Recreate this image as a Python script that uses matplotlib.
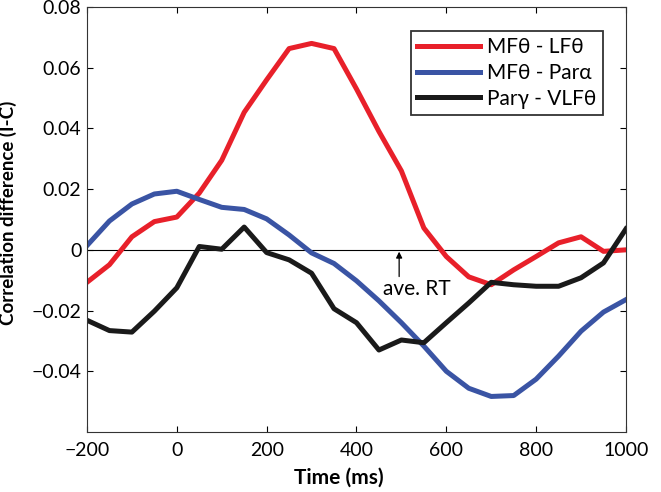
import matplotlib
matplotlib.use("Agg")
import matplotlib.pyplot as plt

plt.rcParams["font.family"] = ["Lato", "DejaVu Sans"]

time_ms = [-200, -150, -100, -50, 0, 50, 100, 150, 200, 250, 300, 350, 400,
           450, 500, 550, 600, 650, 700, 750, 800, 850, 900, 950, 1000]

# MFtheta - LFtheta
mf_lf = [-0.0107, -0.0049, 0.0043, 0.0093, 0.0108, 0.0187, 0.0295, 0.0453,
         0.0560, 0.0663, 0.0680, 0.0663, 0.0530, 0.0390, 0.0260, 0.0072,
         -0.0022, -0.0089, -0.0115, -0.0066, -0.0022, 0.0023, 0.0043,
         -0.0005, 0.0000]
# MFtheta - Par alpha
mf_par = [0.0014, 0.0095, 0.0151, 0.0184, 0.0193, 0.0166, 0.0140, 0.0133,
          0.0102, 0.0049, -0.0010, -0.0045, -0.0102, -0.0168, -0.0240,
          -0.0317, -0.0400, -0.0456, -0.0483, -0.0480, -0.0426, -0.0350,
          -0.0268, -0.0205, -0.0164]
# Par gamma - VLFtheta
par_vlf = [-0.0232, -0.0266, -0.0271, -0.0202, -0.0125, 0.0011, 0.0002,
           0.0075, -0.0009, -0.0033, -0.0077, -0.0194, -0.0240, -0.0330,
           -0.0297, -0.0306, -0.0240, -0.0175, -0.0107, -0.0115, -0.0120,
           -0.0120, -0.0092, -0.0043, 0.0069]

labels = ["MF\u03b8 - LF\u03b8", "MF\u03b8 - Par\u03b1", "Par\u03b3 - VLF\u03b8"]
colors = ["#e8202a", "#3a54a4", "#1a1a1a"]

ave_rt = 495

fig = plt.figure(figsize=(6.61, 4.92), dpi=100)
ax = fig.add_axes([0.1316, 0.122, 0.8154, 0.8638])

ax.axhline(0, color="black", lw=0.8, zorder=1)
for series, lab, col in zip([mf_lf, mf_par, par_vlf], labels, colors):
    ax.plot(time_ms, series, color=col, lw=3.6, label=lab, zorder=2)

ax.annotate("", xy=(ave_rt, -0.0006), xytext=(ave_rt, -0.0088),
            arrowprops=dict(arrowstyle="-|>", color="black", lw=0.9,
                            mutation_scale=9, shrinkA=0, shrinkB=0))
ax.text(ave_rt + 40, -0.0130, "ave. RT", ha="center", va="center", fontsize=15)

ax.set_xlim(-200, 1000)
ax.set_ylim(-0.06, 0.08)
ax.set_xticks(range(-200, 1001, 200))
ax.set_yticks([-0.04, -0.02, 0, 0.02, 0.04, 0.06, 0.08])
ax.set_xticklabels(["\u2212200", "0", "200", "400", "600", "800", "1000"])
ax.set_yticklabels(["\u22120.04", "\u22120.02", "0", "0.02", "0.04", "0.06", "0.08"])
ax.tick_params(direction="in", top=True, right=True, labelsize=14, length=4,
               width=0.8)
ax.tick_params(axis="x", pad=7)
ax.tick_params(axis="y", pad=4)
for s in ax.spines.values():
    s.set_linewidth(0.8)
    s.set_color("#333333")

ax.set_xlabel("Time (ms)", fontsize=15, fontweight="bold")
ax.set_ylabel("Correlation difference (I-C)", fontsize=13.5, fontweight="bold")
ax.xaxis.set_label_coords(0.468, -0.085)
ax.yaxis.set_label_coords(-0.130, 0.516)

leg = ax.legend(loc="upper right", bbox_to_anchor=(0.957, 0.944), fontsize=15,
                frameon=True, fancybox=False, handlelength=3.0,
                borderpad=0.3, labelspacing=0.28, handletextpad=0.35,
                borderaxespad=0)
leg.get_frame().set_edgecolor("black")
leg.get_frame().set_linewidth(1.3)

fig.savefig("out.png", dpi=100)
